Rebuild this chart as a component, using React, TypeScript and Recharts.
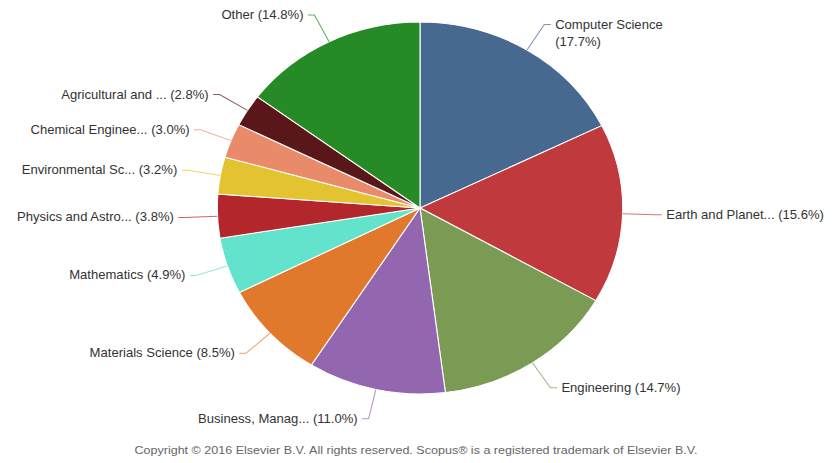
import React from "react";
import { PieChart, Pie, Cell } from "recharts";

const subjects = [
  "Computer Science",
  "Earth and Planet...",
  "Engineering",
  "Business, Manag...",
  "Materials Science",
  "Mathematics",
  "Physics and Astro...",
  "Environmental Sc...",
  "Chemical Enginee...",
  "Agricultural and ...",
  "Other",
];
const shares = [17.7, 15.6, 14.7, 11.0, 8.5, 4.9, 3.8, 3.2, 3.0, 2.8, 14.8];
const colors = [
  "#48698f",
  "#c0393c",
  "#7b9a53",
  "#9366b0",
  "#e0792b",
  "#63e2cc",
  "#b3272c",
  "#e3c330",
  "#e98a6a",
  "#5a1719",
  "#268a26",
];

const data = subjects.map((name, i) => ({ name, value: shares[i] }));

const SX = 1.09;
const W = 832 / SX;
const RAD = Math.PI / 180;
const FONT = "'Liberation Sans', Arial, sans-serif";

const renderLabel = (props: any) => {
  const { cx, cy, midAngle, outerRadius, index } = props;
  const c = Math.cos(-midAngle * RAD);
  const s = Math.sin(-midAngle * RAD);
  const sx = cx + outerRadius * c;
  const sy = cy + outerRadius * s;
  const mx = cx + (outerRadius + 30) * c;
  const my = cy + (outerRadius + 30) * s;
  const right = c >= 0;
  const ex = mx + (right ? 1 : -1) * 6;
  const tx = ex + (right ? 1 : -1) * 4;
  const pct = `(${shares[index].toFixed(1)}%)`;
  const color = colors[index];
  const twoLine = index === 0;
  const anchor = right ? "start" : "end";
  return (
    <g>
      <polyline
        points={`${sx},${sy} ${mx},${my} ${ex},${my}`}
        fill="none"
        stroke={color}
        strokeOpacity={0.7}
        strokeWidth={1}
      />
      {twoLine ? (
        <text x={tx} y={my + 4} textAnchor={anchor} fontSize={12} fill="#333" fontFamily={FONT}>
          <tspan x={tx} dy={0}>{subjects[index]}</tspan>
          <tspan x={tx} dy={17}>{pct}</tspan>
        </text>
      ) : (
        <text x={tx} y={my + 4} textAnchor={anchor} fontSize={12} fill="#333" fontFamily={FONT}>
          {`${subjects[index]} ${pct}`}
        </text>
      )}
    </g>
  );
};

export default function App() {
  return (
    <div
      style={{
        position: "absolute",
        left: 0,
        top: 0,
        width: 832,
        height: 463,
        background: "#fff",
        overflow: "hidden",
      }}
    >
      <div
        style={{
          position: "absolute",
          left: 0,
          top: 0,
          width: W,
          height: 463,
          transform: `scaleX(${SX})`,
          transformOrigin: "0 0",
        }}
      >
        <PieChart width={W} height={463} margin={{ top: 0, right: 0, bottom: 0, left: 0 }}>
          <Pie
            data={data}
            dataKey="value"
            nameKey="name"
            cx={420 / SX}
            cy={208}
            outerRadius={186}
            startAngle={90}
            endAngle={-270}
            stroke="#ffffff"
            strokeWidth={1}
            label={renderLabel}
            labelLine={false}
            isAnimationActive={false}
          >
            {data.map((d, i) => (
              <Cell key={d.name} fill={colors[i]} />
            ))}
          </Pie>
        </PieChart>
        <div
          style={{
            position: "absolute",
            left: 0,
            width: 416 * 2 / SX,
            top: 444,
            textAlign: "center",
            fontSize: 11.5,
            color: "#666",
            fontFamily: FONT,
            whiteSpace: "nowrap",
          }}
        >
          Copyright © 2016 Elsevier B.V. All rights reserved. Scopus® is a registered trademark of Elsevier B.V.
        </div>
      </div>
    </div>
  );
}
